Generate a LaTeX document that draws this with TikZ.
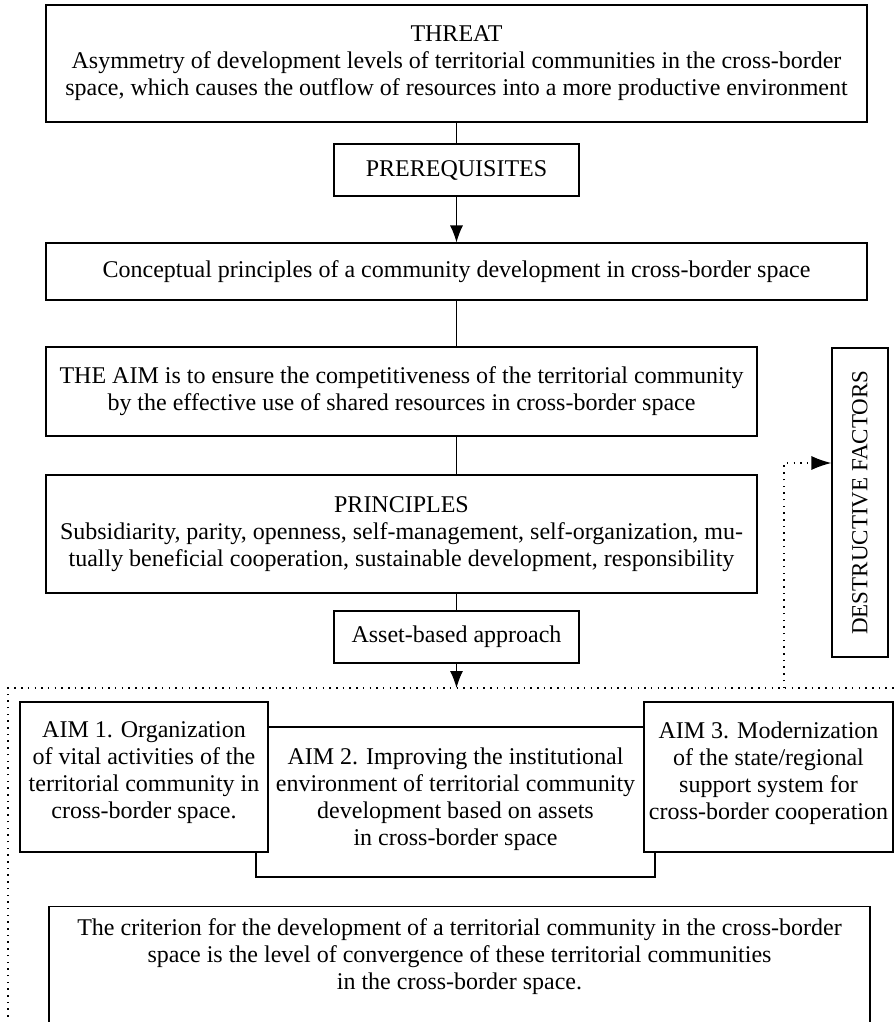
\documentclass[tikz,border=0pt]{standalone}
\usepackage{fontspec}
\setmainfont{Liberation Serif}
\usetikzlibrary{arrows.meta,calc}
\begin{document}
\begin{tikzpicture}[x=1pt,y=-1pt,
  box/.style={draw,line width=1.1pt,fill=white,inner sep=0pt,align=center,font=\fontsize{24}{27}\selectfont},
  conn/.style={line width=1.1pt},
  arr/.style={line width=1.1pt,-{Latex[length=17pt,width=13pt]}},
  dotline/.style={line width=1.5pt,dash pattern=on 1.5pt off 5.2pt},
  txt/.style={inner sep=0pt,align=center,font=\fontsize{24}{27}\selectfont}]
\useasboundingbox (0,0) rectangle (895,1022);
\node[box,minimum width=821,minimum height=117] (threat) at (456.5,63.5)
  {THREAT\\Asymmetry of development levels of territorial communities in the cross-border\\space, which causes the outflow of resources into a more productive environment};
\node[box,minimum width=245,minimum height=52] (prereq) at (456.5,170) {PREREQUISITES};
\node[box,minimum width=821,minimum height=57] (concept) at (456.5,271.5)
  {Conceptual principles of a community development in cross-border space};
\node[box,minimum width=711,minimum height=89] (aim) at (401.5,391.5)
  {THE AIM is to ensure the competitiveness of the territorial community\\by the effective use of shared resources in cross-border space};
\node[box,minimum width=711,minimum height=118] (princ) at (401.5,534)
  {PRINCIPLES\\Subsidiarity, parity, openness, self-management, self-organization, mu-\\tually beneficial cooperation, sustainable development, responsibility};
\node[box,minimum width=245,minimum height=52] (asset) at (456.5,637) {Asset-based approach};
\node[box,minimum width=56,minimum height=309,font=\fontsize{23}{26}\selectfont] (destr) at (860,502.5) {\rotatebox{90}{DESTRUCTIVE FACTORS}};
\node[box,minimum width=399,minimum height=150] (aimtwo) at (455.5,802) {};
\node[txt] (aimtwotext) at (455.5,799)
  {AIM 2. Improving the institutional\\environment of territorial community\\development based on assets\\in cross-border space};
\node[box,minimum width=248,minimum height=150] (aimone) at (144,777) {};
\node[txt] (aimonetext) at (144,773)
  {AIM 1. Organization\\of vital activities of the\\territorial community in\\cross-border space.};
\node[box,minimum width=249,minimum height=150] (aimthree) at (768.5,777) {};
\node[txt] (aimthreetext) at (768.5,773)
  {AIM 3. Modernization\\of the state/regional\\support system for\\cross-border cooperation};
\node[box,minimum width=821,minimum height=140,anchor=north] (crit) at (459.5,906) {};
\node[txt] (crittext) at (459.5,957)
  {The criterion for the development of a territorial community in the cross-border\\space is the level of convergence of these territorial communities\\in the cross-border space.};
% connectors
\draw[conn] (threat.south) -- (prereq.north);
\draw[arr] (prereq.south) -- (concept.north);
\draw[conn] (concept.south) -- (concept.south |- aim.north);
\draw[conn] (concept.south |- aim.south) -- (concept.south |- princ.north);
\draw[conn] (concept.south |- princ.south) -- (asset.north);
\coordinate (dl) at (456.5,688);
\coordinate (dleft) at (8,688);
\coordinate (dright) at (895,688);
\coordinate (dbottom) at (8,1030);
\coordinate (dj) at (784,688);
\coordinate (dy) at (0,463);
\draw[arr] (asset.south) -- (dl);
\draw[dotline] (dbottom) -- (dleft) -- (dright);
\draw[dotline,-{Latex[length=20pt,width=14pt]}] (dj) |- (destr.west |- dy);
\end{tikzpicture}
\end{document}
